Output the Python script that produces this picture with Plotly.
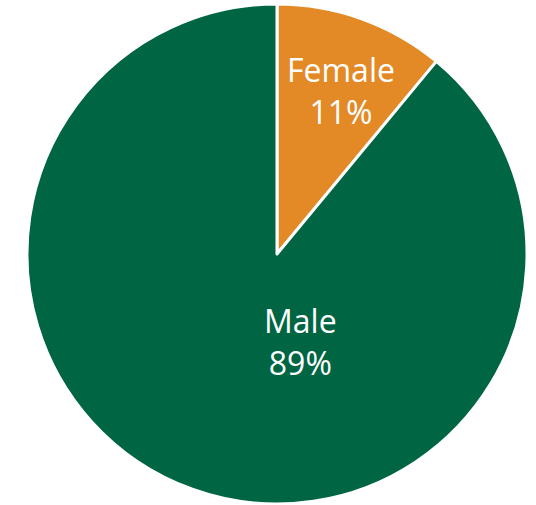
import plotly.graph_objects as go

labels = ["Female", "Male"]
values = [11, 89]
colors = ["#E38A26", "#006543"]
# label anchor positions in pixels (centre of the two-line label)
label_pos = {"Female": (341, 91), "Male": (300, 341)}

W, H = 536, 505
fig = go.Figure(go.Pie(
    labels=labels,
    values=values,
    sort=False,
    direction="clockwise",
    rotation=0,
    marker=dict(colors=colors, line=dict(color="white", width=3)),
    textinfo="none",
    domain=dict(x=[27 / W, 527 / W], y=[1 - 504 / H, 1 - 4 / H]),
    showlegend=False,
    hoverinfo="skip",
))
total = sum(values)
for lab, val in zip(labels, values):
    px, py = label_pos[lab]
    fig.add_annotation(
        x=px / W, y=1 - py / H, xref="paper", yref="paper",
        text=f"{lab}<br>{round(100 * val / total)}%",
        showarrow=False, xanchor="center", yanchor="middle",
        font=dict(family="Open Sans", size=32, color="white"),
    )
fig.update_layout(
    width=W, height=H,
    margin=dict(l=0, r=0, t=0, b=0),
    paper_bgcolor="white",
    plot_bgcolor="white",
)
fig.write_html("out.html", config={"displayModeBar": False},
               post_script="document.body.style.margin='0';")
